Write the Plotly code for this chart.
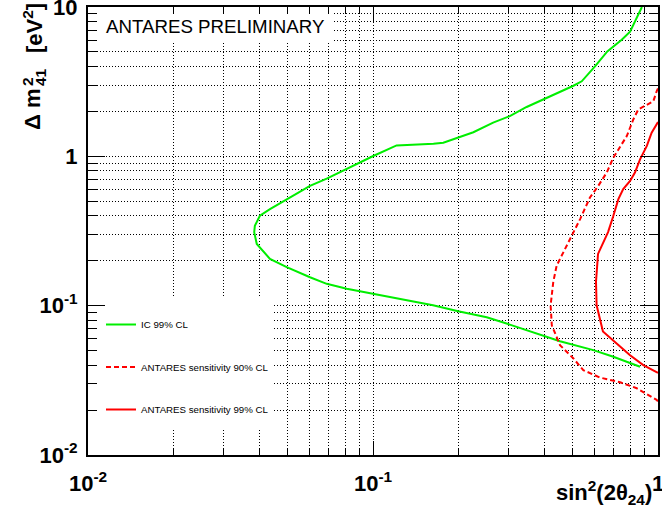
import plotly.graph_objects as go

# ---- data ----
ic_x = [0.878, 0.798, 0.746, 0.664, 0.601, 0.540, 0.505, 0.396, 0.346, 0.302, 0.264, 0.225,
        0.199, 0.1765, 0.163, 0.146, 0.121, 0.1002, 0.0809, 0.0688, 0.0601, 0.0498, 0.0435,
        0.0401, 0.0385, 0.0383, 0.0391, 0.0435, 0.0498, 0.0601, 0.0688, 0.0809, 0.1002, 0.121,
        0.1624, 0.199, 0.2506, 0.302, 0.396, 0.453, 0.593, 0.697, 0.865]
ic_y = [10.0, 6.84, 6.03, 5.04, 4.00, 3.18, 2.97, 2.40, 2.14, 1.86, 1.68, 1.45,
        1.33, 1.234, 1.215, 1.20, 1.184, 1.005, 0.819, 0.710, 0.634, 0.517, 0.443,
        0.400, 0.343, 0.310, 0.259, 0.2057, 0.181, 0.155, 0.140, 0.130, 0.120, 0.1114,
        0.1005, 0.0917, 0.0836, 0.0747, 0.0634, 0.0578, 0.0504, 0.0455, 0.039]

s90_x = [1.0, 0.989, 0.963, 0.913, 0.853, 0.819, 0.777, 0.697, 0.661, 0.617, 0.577, 0.533,
         0.498, 0.465, 0.441, 0.429, 0.420, 0.424, 0.453, 0.505, 0.547, 0.626, 0.736, 0.842,
         0.989, 1.0]
s90_y = [2.85, 2.72, 2.34, 2.22, 2.06, 1.765, 1.366, 0.980, 0.779, 0.634, 0.530, 0.380,
         0.294, 0.228, 0.1856, 0.1439, 0.1005, 0.0739, 0.0544, 0.0443, 0.0370, 0.033, 0.0307,
         0.028, 0.0234, 0.0228]

s99_x = [1.0, 0.989, 0.950, 0.913, 0.865, 0.830, 0.798, 0.755, 0.726, 0.695, 0.668, 0.616,
         0.606, 0.609, 0.641, 0.716, 0.798, 0.888, 0.989, 1.0]
s99_y = [1.70, 1.635, 1.439, 1.171, 0.955, 0.779, 0.684, 0.603, 0.517, 0.392, 0.311, 0.222,
         0.1445, 0.1005, 0.0671, 0.0558, 0.0466, 0.040, 0.0363, 0.0355]

x_major = [0.01, 0.1, 1]
x_major_text = ["10<sup>-2</sup>", "10<sup>-1</sup>", "1"]
y_major = [0.01, 0.1, 1, 10]
y_major_text = ["10<sup>-2</sup>", "10<sup>-1</sup>", "1", "10"]
x_minor = [m * 10 ** e for e in (-2, -1) for m in range(2, 10)]
y_minor = [m * 10 ** e for e in (-2, -1, 0) for m in range(2, 10)]

labels = ["IC 99% CL", "ANTARES sensitivity 90% CL", "ANTARES sensitivity 99% CL"]

FONT = "Liberation Sans, Arial, Helvetica, sans-serif"
GREEN = "#00ee00"
RED = "#ff0000"

W, H = 662, 515
L, R, T, B = 88, 4, 7, 60
pw, ph = W - L - R, H - T - B
XR = (-2, 0)
YR = (-2, 1)


def px(xp):
    return (xp - L) / pw


def py(yp):
    return (H - B - yp) / ph


def xv(xp):  # pixel -> x data value (log axis)
    return 10 ** (XR[0] + (XR[1] - XR[0]) * px(xp))


def yv(yp):  # pixel -> y data value (log axis)
    return 10 ** (YR[0] + (YR[1] - YR[0]) * py(yp))


def white_box(x0, x1, y0, y1):
    return go.Scatter(x=[xv(x0), xv(x1), xv(x1), xv(x0), xv(x0)],
                      y=[yv(y0), yv(y0), yv(y1), yv(y1), yv(y0)],
                      mode="lines", fill="toself", fillcolor="white",
                      line=dict(width=0, color="white"), hoverinfo="skip",
                      showlegend=False)


fig = go.Figure()
# white pads behind the legend and the title (they hide the grid there)
fig.add_trace(white_box(L - 2, 272, 298, 428))
fig.add_trace(white_box(L - 2, 333, T - 2, 42))

fig.add_trace(go.Scatter(x=ic_x, y=ic_y, mode="lines", name=labels[0], legendgroup="a",
                         line=dict(color=GREEN, width=2)))
fig.add_trace(go.Scatter(x=s90_x, y=s90_y, mode="lines", name=labels[1], legendgroup="b",
                         line=dict(color=RED, width=2, dash="5px,3px")))
fig.add_trace(go.Scatter(x=s99_x, y=s99_y, mode="lines", name=labels[2], legendgroup="c",
                         line=dict(color=RED, width=2)))

grid = dict(showgrid=True, gridcolor="#000000", gridwidth=1, griddash="1px,2px")

fig.update_xaxes(type="log", range=list(XR), tickvals=x_major, ticktext=x_major_text,
                 ticks="inside", ticklen=14, tickwidth=1, tickcolor="black",
                 showline=True, linewidth=2, linecolor="black", mirror="allticks",
                 tickfont=dict(family=FONT, size=22, color="black", weight="bold"),
                 ticklabelstandoff=8, ticklabeloverflow="allow", zeroline=False,
                 minor=dict(tickvals=x_minor, ticks="inside", ticklen=7, tickwidth=1,
                            tickcolor="black", **grid),
                 **grid)
fig.update_yaxes(type="log", range=list(YR), tickvals=y_major, ticktext=y_major_text,
                 ticks="inside", ticklen=17, tickwidth=1, tickcolor="black",
                 showline=True, linewidth=2, linecolor="black", mirror="allticks",
                 tickfont=dict(family=FONT, size=22, color="black", weight="bold"),
                 ticklabelstandoff=4, ticklabeloverflow="allow", zeroline=False,
                 minor=dict(tickvals=y_minor, ticks="inside", ticklen=9, tickwidth=1,
                            tickcolor="black", **grid),
                 **grid)

TF = dict(family=FONT, size=22, color="black")
annotations = [
    dict(text="ANTARES PRELIMINARY", xref="paper", yref="paper", x=px(104), y=py(27),
         xanchor="left", yanchor="middle", showarrow=False,
         font=dict(family=FONT, size=18.7, color="black")),
    dict(text="<b>sin<sup>2</sup>(2θ<sub>24</sub>)</b>", xref="paper", yref="paper",
         x=px(654), y=py(492), xanchor="right", yanchor="middle", showarrow=False, font=TF),
    # y-axis title, built in pieces so that the 2 and 41 stack like the original
    dict(text="<b>[eV<sup>2</sup>]</b>", xref="paper", yref="paper",
         x=px(33), y=py(1), xanchor="center", yanchor="top", textangle=-90,
         showarrow=False, font=TF),
    dict(text="<b>Δ m</b>", xref="paper", yref="paper",
         x=px(33), y=py(132), xanchor="center", yanchor="bottom", textangle=-90,
         showarrow=False, font=TF),
    dict(text="<b>2</b>", xref="paper", yref="paper",
         x=px(27), y=py(82), xanchor="center", yanchor="middle", textangle=-90,
         showarrow=False, font=dict(family=FONT, size=15.5, color="black")),
    dict(text="<b>41</b>", xref="paper", yref="paper",
         x=px(40), y=py(77), xanchor="center", yanchor="middle", textangle=-90,
         showarrow=False, font=dict(family=FONT, size=15.5, color="black")),
]

fig.update_layout(
    width=W, height=H, margin=dict(l=L, r=R, t=T, b=B, autoexpand=False),
    paper_bgcolor="white", plot_bgcolor="white",
    annotations=annotations,
    showlegend=True,
    legend=dict(x=px(101), y=py(310), xanchor="left", yanchor="top",
                bgcolor="rgba(0,0,0,0)", borderwidth=0, traceorder="grouped",
                tracegroupgap=23.5, itemwidth=30,
                font=dict(family=FONT, size=9.7, color="black")),
)

fig.write_html("out.html")
